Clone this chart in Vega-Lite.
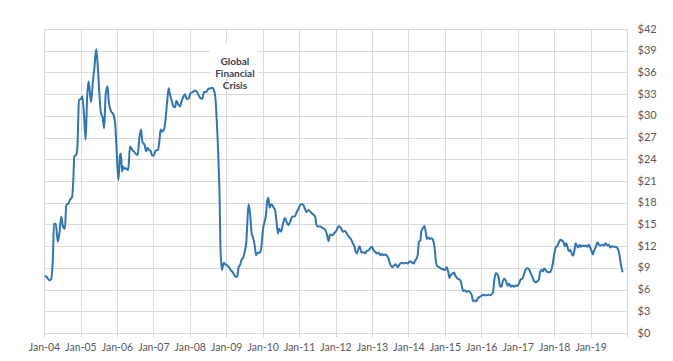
{
  "$schema": "https://vega.github.io/schema/vega-lite/v6.json",
  "width": 583,
  "height": 304,
  "autosize": {"type": "none"},
  "padding": {"left": 44, "top": 29, "right": 46, "bottom": 28},
  "background": "#ffffff",
  "config": {
    "view": {"stroke": null},
    "font": "Lato",
    "axisY": {
      "title": null,
      "orient": "right",
      "grid": true,
      "gridColor": "#d9d9d9",
      "gridWidth": 1,
      "domain": false,
      "ticks": false,
      "labelPadding": 10,
      "labelColor": "#595959",
      "labelFont": "Lato",
      "labelFontSize": 11,
      "labelFlush": false,
      "labelOverlap": false
    }
  },
  "datasets": {
    "prices": [
      {"date": "2004-01-08", "price": 7.9},
      {"date": "2004-01-27", "price": 7.75},
      {"date": "2004-02-25", "price": 7.3},
      {"date": "2004-03-11", "price": 7.4},
      {"date": "2004-03-30", "price": 10.3},
      {"date": "2004-04-10", "price": 15.1},
      {"date": "2004-04-28", "price": 15.1},
      {"date": "2004-05-18", "price": 12.6},
      {"date": "2004-06-03", "price": 13.75},
      {"date": "2004-06-22", "price": 16.1},
      {"date": "2004-07-06", "price": 14.9},
      {"date": "2004-07-28", "price": 14.4},
      {"date": "2004-08-12", "price": 17.7},
      {"date": "2004-09-03", "price": 17.9},
      {"date": "2004-09-17", "price": 18.4},
      {"date": "2004-10-09", "price": 18.8},
      {"date": "2004-10-20", "price": 20.9},
      {"date": "2004-10-31", "price": 24.4},
      {"date": "2004-11-18", "price": 24.6},
      {"date": "2004-12-01", "price": 25.75},
      {"date": "2004-12-17", "price": 32.2},
      {"date": "2005-01-06", "price": 32.35},
      {"date": "2005-01-19", "price": 32.7},
      {"date": "2005-02-07", "price": 29.7},
      {"date": "2005-02-21", "price": 26.7},
      {"date": "2005-03-08", "price": 32.4},
      {"date": "2005-03-22", "price": 34.75},
      {"date": "2005-04-02", "price": 33.6},
      {"date": "2005-04-17", "price": 31.9},
      {"date": "2005-05-05", "price": 34.75},
      {"date": "2005-05-20", "price": 36.6},
      {"date": "2005-06-07", "price": 39.2},
      {"date": "2005-06-22", "price": 37.1},
      {"date": "2005-07-10", "price": 32.9},
      {"date": "2005-07-23", "price": 30.5},
      {"date": "2005-08-12", "price": 29.7},
      {"date": "2005-08-26", "price": 28.3},
      {"date": "2005-09-10", "price": 32.9},
      {"date": "2005-09-28", "price": 34.1},
      {"date": "2005-10-13", "price": 31.75},
      {"date": "2005-11-04", "price": 30.6},
      {"date": "2005-11-26", "price": 30.2},
      {"date": "2005-12-14", "price": 29.0},
      {"date": "2005-12-28", "price": 25.5},
      {"date": "2006-01-16", "price": 21.1},
      {"date": "2006-02-01", "price": 24.6},
      {"date": "2006-02-10", "price": 24.8},
      {"date": "2006-02-21", "price": 22.3},
      {"date": "2006-03-04", "price": 23.0},
      {"date": "2006-03-15", "price": 22.7},
      {"date": "2006-04-02", "price": 22.75},
      {"date": "2006-04-24", "price": 22.5},
      {"date": "2006-05-12", "price": 25.75},
      {"date": "2006-06-03", "price": 25.3},
      {"date": "2006-06-25", "price": 25.0},
      {"date": "2006-07-13", "price": 24.7},
      {"date": "2006-07-28", "price": 24.6},
      {"date": "2006-08-12", "price": 26.7},
      {"date": "2006-08-30", "price": 28.1},
      {"date": "2006-09-14", "price": 26.4},
      {"date": "2006-10-05", "price": 26.0},
      {"date": "2006-10-20", "price": 25.1},
      {"date": "2006-11-04", "price": 25.6},
      {"date": "2006-11-18", "price": 25.3},
      {"date": "2006-12-06", "price": 25.1},
      {"date": "2006-12-21", "price": 24.5},
      {"date": "2007-01-08", "price": 24.6},
      {"date": "2007-01-23", "price": 25.2},
      {"date": "2007-02-17", "price": 25.3},
      {"date": "2007-03-04", "price": 26.7},
      {"date": "2007-03-15", "price": 28.1},
      {"date": "2007-03-30", "price": 27.8},
      {"date": "2007-04-17", "price": 28.1},
      {"date": "2007-05-01", "price": 29.2},
      {"date": "2007-05-20", "price": 32.0},
      {"date": "2007-06-03", "price": 33.8},
      {"date": "2007-06-18", "price": 32.9},
      {"date": "2007-07-03", "price": 32.2},
      {"date": "2007-07-21", "price": 31.3},
      {"date": "2007-08-08", "price": 31.2},
      {"date": "2007-08-19", "price": 32.1},
      {"date": "2007-09-06", "price": 31.6},
      {"date": "2007-09-24", "price": 31.3},
      {"date": "2007-10-09", "price": 31.9},
      {"date": "2007-10-24", "price": 32.5},
      {"date": "2007-11-15", "price": 33.0},
      {"date": "2007-11-29", "price": 32.35},
      {"date": "2007-12-21", "price": 32.4},
      {"date": "2008-01-08", "price": 33.1},
      {"date": "2008-02-03", "price": 33.3},
      {"date": "2008-02-28", "price": 33.5},
      {"date": "2008-03-22", "price": 33.1},
      {"date": "2008-04-13", "price": 32.5},
      {"date": "2008-05-05", "price": 32.35},
      {"date": "2008-05-23", "price": 33.3},
      {"date": "2008-06-14", "price": 33.3},
      {"date": "2008-07-03", "price": 33.7},
      {"date": "2008-07-24", "price": 33.8},
      {"date": "2008-08-12", "price": 33.9},
      {"date": "2008-09-03", "price": 33.4},
      {"date": "2008-09-17", "price": 32.0},
      {"date": "2008-09-28", "price": 29.2},
      {"date": "2008-10-13", "price": 24.6},
      {"date": "2008-10-27", "price": 18.1},
      {"date": "2008-11-04", "price": 11.7},
      {"date": "2008-11-18", "price": 8.7},
      {"date": "2008-12-06", "price": 9.7},
      {"date": "2008-12-21", "price": 9.5},
      {"date": "2009-01-12", "price": 9.3},
      {"date": "2009-01-27", "price": 9.1},
      {"date": "2009-02-14", "price": 8.7},
      {"date": "2009-03-04", "price": 8.45},
      {"date": "2009-03-19", "price": 8.1},
      {"date": "2009-04-06", "price": 7.75},
      {"date": "2009-04-21", "price": 7.85},
      {"date": "2009-05-05", "price": 9.1},
      {"date": "2009-05-20", "price": 9.4},
      {"date": "2009-06-03", "price": 10.1},
      {"date": "2009-06-22", "price": 10.5},
      {"date": "2009-07-06", "price": 11.3},
      {"date": "2009-07-21", "price": 12.6},
      {"date": "2009-08-01", "price": 15.4},
      {"date": "2009-08-12", "price": 17.8},
      {"date": "2009-08-26", "price": 16.75},
      {"date": "2009-09-14", "price": 13.6},
      {"date": "2009-09-24", "price": 13.3},
      {"date": "2009-10-13", "price": 12.1},
      {"date": "2009-10-27", "price": 10.75},
      {"date": "2009-11-11", "price": 11.1},
      {"date": "2009-12-03", "price": 11.1},
      {"date": "2009-12-17", "price": 11.7},
      {"date": "2010-01-05", "price": 14.4},
      {"date": "2010-01-23", "price": 15.5},
      {"date": "2010-02-03", "price": 16.3},
      {"date": "2010-02-17", "price": 18.4},
      {"date": "2010-02-28", "price": 18.7},
      {"date": "2010-03-11", "price": 17.3},
      {"date": "2010-03-30", "price": 17.8},
      {"date": "2010-04-21", "price": 17.3},
      {"date": "2010-05-05", "price": 17.0},
      {"date": "2010-05-20", "price": 15.4},
      {"date": "2010-06-03", "price": 13.75},
      {"date": "2010-06-14", "price": 14.4},
      {"date": "2010-07-03", "price": 14.0},
      {"date": "2010-07-24", "price": 15.1},
      {"date": "2010-08-12", "price": 15.9},
      {"date": "2010-08-30", "price": 15.3},
      {"date": "2010-09-17", "price": 14.9},
      {"date": "2010-10-09", "price": 15.6},
      {"date": "2010-10-27", "price": 16.1},
      {"date": "2010-11-18", "price": 16.1},
      {"date": "2010-12-10", "price": 16.75},
      {"date": "2010-12-28", "price": 17.2},
      {"date": "2011-01-19", "price": 17.8},
      {"date": "2011-02-07", "price": 17.8},
      {"date": "2011-02-25", "price": 17.3},
      {"date": "2011-03-15", "price": 16.7},
      {"date": "2011-04-06", "price": 17.0},
      {"date": "2011-04-24", "price": 16.75},
      {"date": "2011-05-20", "price": 16.4},
      {"date": "2011-06-11", "price": 16.1},
      {"date": "2011-06-25", "price": 14.9},
      {"date": "2011-07-10", "price": 14.7},
      {"date": "2011-08-01", "price": 14.7},
      {"date": "2011-08-26", "price": 14.5},
      {"date": "2011-09-14", "price": 14.35},
      {"date": "2011-10-05", "price": 13.75},
      {"date": "2011-10-24", "price": 12.7},
      {"date": "2011-11-07", "price": 13.6},
      {"date": "2011-11-29", "price": 13.5},
      {"date": "2011-12-17", "price": 13.75},
      {"date": "2012-01-08", "price": 14.1},
      {"date": "2012-02-03", "price": 14.8},
      {"date": "2012-02-25", "price": 14.5},
      {"date": "2012-03-15", "price": 14.0},
      {"date": "2012-04-02", "price": 14.1},
      {"date": "2012-04-24", "price": 13.75},
      {"date": "2012-05-12", "price": 13.3},
      {"date": "2012-06-03", "price": 13.0},
      {"date": "2012-06-22", "price": 12.4},
      {"date": "2012-07-10", "price": 11.9},
      {"date": "2012-07-21", "price": 11.2},
      {"date": "2012-08-04", "price": 11.0},
      {"date": "2012-08-19", "price": 11.7},
      {"date": "2012-08-30", "price": 12.0},
      {"date": "2012-09-17", "price": 11.1},
      {"date": "2012-10-02", "price": 11.2},
      {"date": "2012-10-24", "price": 11.0},
      {"date": "2012-11-07", "price": 11.3},
      {"date": "2012-11-26", "price": 11.4},
      {"date": "2012-12-14", "price": 11.7},
      {"date": "2013-01-01", "price": 11.9},
      {"date": "2013-01-19", "price": 11.4},
      {"date": "2013-02-03", "price": 11.2},
      {"date": "2013-02-21", "price": 11.0},
      {"date": "2013-03-08", "price": 11.1},
      {"date": "2013-03-26", "price": 10.75},
      {"date": "2013-04-10", "price": 10.9},
      {"date": "2013-04-28", "price": 10.75},
      {"date": "2013-05-12", "price": 10.85},
      {"date": "2013-05-31", "price": 10.7},
      {"date": "2013-06-14", "price": 10.3},
      {"date": "2013-07-03", "price": 9.5},
      {"date": "2013-07-21", "price": 9.1},
      {"date": "2013-08-08", "price": 9.3},
      {"date": "2013-08-26", "price": 9.5},
      {"date": "2013-09-17", "price": 9.1},
      {"date": "2013-10-05", "price": 9.5},
      {"date": "2013-10-27", "price": 9.7},
      {"date": "2013-11-15", "price": 9.6},
      {"date": "2013-12-06", "price": 9.7},
      {"date": "2013-12-25", "price": 9.6},
      {"date": "2014-01-16", "price": 9.9},
      {"date": "2014-01-30", "price": 9.8},
      {"date": "2014-02-25", "price": 9.6},
      {"date": "2014-03-08", "price": 10.0},
      {"date": "2014-03-22", "price": 10.2},
      {"date": "2014-04-06", "price": 11.0},
      {"date": "2014-04-17", "price": 12.6},
      {"date": "2014-05-01", "price": 12.8},
      {"date": "2014-05-09", "price": 14.0},
      {"date": "2014-05-23", "price": 14.4},
      {"date": "2014-06-11", "price": 14.8},
      {"date": "2014-06-22", "price": 14.1},
      {"date": "2014-07-06", "price": 13.0},
      {"date": "2014-07-21", "price": 13.2},
      {"date": "2014-08-04", "price": 13.0},
      {"date": "2014-08-23", "price": 13.1},
      {"date": "2014-09-06", "price": 12.8},
      {"date": "2014-09-21", "price": 11.7},
      {"date": "2014-10-02", "price": 10.1},
      {"date": "2014-10-13", "price": 9.3},
      {"date": "2014-11-04", "price": 9.1},
      {"date": "2014-11-22", "price": 8.9},
      {"date": "2014-12-14", "price": 8.8},
      {"date": "2015-01-01", "price": 8.7},
      {"date": "2015-01-19", "price": 9.1},
      {"date": "2015-02-03", "price": 8.5},
      {"date": "2015-02-17", "price": 7.6},
      {"date": "2015-02-28", "price": 8.0},
      {"date": "2015-03-19", "price": 8.2},
      {"date": "2015-04-02", "price": 8.35},
      {"date": "2015-04-17", "price": 7.9},
      {"date": "2015-05-09", "price": 7.5},
      {"date": "2015-05-27", "price": 7.4},
      {"date": "2015-06-11", "price": 7.1},
      {"date": "2015-06-22", "price": 6.4},
      {"date": "2015-07-03", "price": 5.8},
      {"date": "2015-07-21", "price": 5.9},
      {"date": "2015-08-08", "price": 5.7},
      {"date": "2015-08-26", "price": 5.8},
      {"date": "2015-09-14", "price": 5.6},
      {"date": "2015-10-02", "price": 5.0},
      {"date": "2015-10-09", "price": 4.4},
      {"date": "2015-10-27", "price": 4.5},
      {"date": "2015-11-11", "price": 4.4},
      {"date": "2015-11-26", "price": 4.75},
      {"date": "2015-12-14", "price": 5.0},
      {"date": "2016-01-01", "price": 5.1},
      {"date": "2016-01-19", "price": 5.3},
      {"date": "2016-02-03", "price": 5.2},
      {"date": "2016-02-25", "price": 5.2},
      {"date": "2016-03-15", "price": 5.3},
      {"date": "2016-04-02", "price": 5.2},
      {"date": "2016-04-17", "price": 5.45},
      {"date": "2016-04-27", "price": 5.6},
      {"date": "2016-05-12", "price": 7.4},
      {"date": "2016-05-27", "price": 8.3},
      {"date": "2016-06-11", "price": 8.1},
      {"date": "2016-06-25", "price": 7.6},
      {"date": "2016-07-06", "price": 6.5},
      {"date": "2016-07-21", "price": 6.4},
      {"date": "2016-08-04", "price": 7.15},
      {"date": "2016-08-19", "price": 7.5},
      {"date": "2016-09-06", "price": 7.15},
      {"date": "2016-09-21", "price": 6.55},
      {"date": "2016-10-05", "price": 6.8},
      {"date": "2016-10-24", "price": 6.4},
      {"date": "2016-11-07", "price": 6.55},
      {"date": "2016-11-26", "price": 6.4},
      {"date": "2016-12-10", "price": 6.55},
      {"date": "2016-12-28", "price": 6.5},
      {"date": "2017-01-16", "price": 6.9},
      {"date": "2017-01-30", "price": 7.4},
      {"date": "2017-02-17", "price": 7.5},
      {"date": "2017-03-04", "price": 8.1},
      {"date": "2017-03-22", "price": 8.8},
      {"date": "2017-04-10", "price": 8.95},
      {"date": "2017-04-24", "price": 8.8},
      {"date": "2017-05-12", "price": 8.2},
      {"date": "2017-05-27", "price": 7.8},
      {"date": "2017-06-14", "price": 7.15},
      {"date": "2017-07-03", "price": 7.0},
      {"date": "2017-07-17", "price": 7.15},
      {"date": "2017-08-01", "price": 7.4},
      {"date": "2017-08-12", "price": 8.4},
      {"date": "2017-08-26", "price": 8.7},
      {"date": "2017-09-10", "price": 8.5},
      {"date": "2017-09-21", "price": 8.9},
      {"date": "2017-10-09", "price": 8.7},
      {"date": "2017-10-27", "price": 8.4},
      {"date": "2017-11-15", "price": 8.4},
      {"date": "2017-12-03", "price": 8.7},
      {"date": "2017-12-17", "price": 9.5},
      {"date": "2018-01-01", "price": 10.85},
      {"date": "2018-01-16", "price": 11.8},
      {"date": "2018-01-30", "price": 12.0},
      {"date": "2018-02-17", "price": 12.5},
      {"date": "2018-03-04", "price": 12.9},
      {"date": "2018-03-19", "price": 12.8},
      {"date": "2018-04-06", "price": 12.5},
      {"date": "2018-04-17", "price": 12.0},
      {"date": "2018-05-01", "price": 12.4},
      {"date": "2018-05-16", "price": 11.8},
      {"date": "2018-05-27", "price": 11.3},
      {"date": "2018-06-11", "price": 11.45},
      {"date": "2018-06-29", "price": 10.85},
      {"date": "2018-07-10", "price": 10.7},
      {"date": "2018-07-24", "price": 11.5},
      {"date": "2018-08-04", "price": 12.4},
      {"date": "2018-08-15", "price": 12.1},
      {"date": "2018-08-30", "price": 11.8},
      {"date": "2018-09-14", "price": 12.2},
      {"date": "2018-09-24", "price": 11.9},
      {"date": "2018-10-13", "price": 12.1},
      {"date": "2018-10-31", "price": 12.0},
      {"date": "2018-11-15", "price": 12.1},
      {"date": "2018-12-03", "price": 11.9},
      {"date": "2018-12-14", "price": 12.2},
      {"date": "2018-12-28", "price": 11.8},
      {"date": "2019-01-12", "price": 11.3},
      {"date": "2019-01-23", "price": 10.85},
      {"date": "2019-02-07", "price": 11.45},
      {"date": "2019-02-25", "price": 12.0},
      {"date": "2019-03-11", "price": 12.55},
      {"date": "2019-03-26", "price": 12.2},
      {"date": "2019-04-13", "price": 12.1},
      {"date": "2019-04-28", "price": 12.2},
      {"date": "2019-05-16", "price": 12.1},
      {"date": "2019-05-31", "price": 12.4},
      {"date": "2019-06-18", "price": 12.1},
      {"date": "2019-07-03", "price": 12.2},
      {"date": "2019-07-17", "price": 11.8},
      {"date": "2019-08-04", "price": 12.0},
      {"date": "2019-08-19", "price": 11.9},
      {"date": "2019-09-06", "price": 11.9},
      {"date": "2019-09-21", "price": 11.8},
      {"date": "2019-10-05", "price": 11.5},
      {"date": "2019-10-20", "price": 10.6},
      {"date": "2019-10-31", "price": 9.5},
      {"date": "2019-11-18", "price": 8.4}
    ],
    "notes": [
      {"date": "2009-03-29", "price": 37.4, "label": "Global Financial Crisis", "from": "2008-07-22", "to": "2009-11-15", "low": 35.3, "high": 40.0}
    ]
  },
  "layer": [
    {
      "data": {"name": "prices"},
      "mark": {"type": "line", "color": "#2e75b6", "strokeWidth": 2, "interpolate": "monotone"},
      "encoding": {
        "x": {
          "field": "date",
          "type": "temporal",
          "scale": {"domain": [{"year": 2004, "month": 1, "date": 1}, {"year": 2020, "month": 1, "date": 1}]},
          "axis": {
            "title": null,
            "tickCount": {"interval": "year", "step": 1},
            "format": "%b-%y",
            "labelExpr": "year(datum.value) < 2020 ? datum.label : ''",
            "grid": true,
            "gridColor": "#d9d9d9",
            "gridWidth": 1,
            "domain": false,
            "ticks": true,
            "tickColor": "#d9d9d9",
            "tickSize": 4,
            "labelPadding": 5,
            "labelColor": "#595959",
            "labelFont": "Lato",
            "labelFontSize": 10.5,
            "labelFlush": false,
            "labelOverlap": false
          }
        },
        "y": {
          "field": "price",
          "type": "quantitative",
          "scale": {"domain": [0, 42], "nice": false, "zero": true},
          "axis": {
            "values": [0, 3, 6, 9, 12, 15, 18, 21, 24, 27, 30, 33, 36, 39, 42],
            "labelExpr": "'$' + datum.value"
          }
        }
      }
    },
    {
      "data": {"name": "notes"},
      "mark": {"type": "rect", "fill": "#ffffff", "stroke": null},
      "encoding": {
        "x": {"field": "from", "type": "temporal"},
        "x2": {"field": "to"},
        "y": {
          "field": "low",
          "type": "quantitative",
          "axis": {
            "values": [0, 3, 6, 9, 12, 15, 18, 21, 24, 27, 30, 33, 36, 39, 42],
            "labelExpr": "'$' + datum.value"
          }
        },
        "y2": {"field": "high"}
      }
    },
    {
      "data": {"name": "notes"},
      "transform": [{"calculate": "split(datum.label, ' ')", "as": "lines"}],
      "mark": {"type": "text", "font": "Lato", "fontWeight": "bold", "fontSize": 10, "color": "#3b4150", "align": "center", "baseline": "middle", "lineHeight": 12},
      "encoding": {
        "x": {"field": "date", "type": "temporal"},
        "y": {
          "field": "price",
          "type": "quantitative",
          "axis": {
            "values": [0, 3, 6, 9, 12, 15, 18, 21, 24, 27, 30, 33, 36, 39, 42],
            "labelExpr": "'$' + datum.value"
          }
        },
        "text": {"field": "lines"}
      }
    }
  ]
}
